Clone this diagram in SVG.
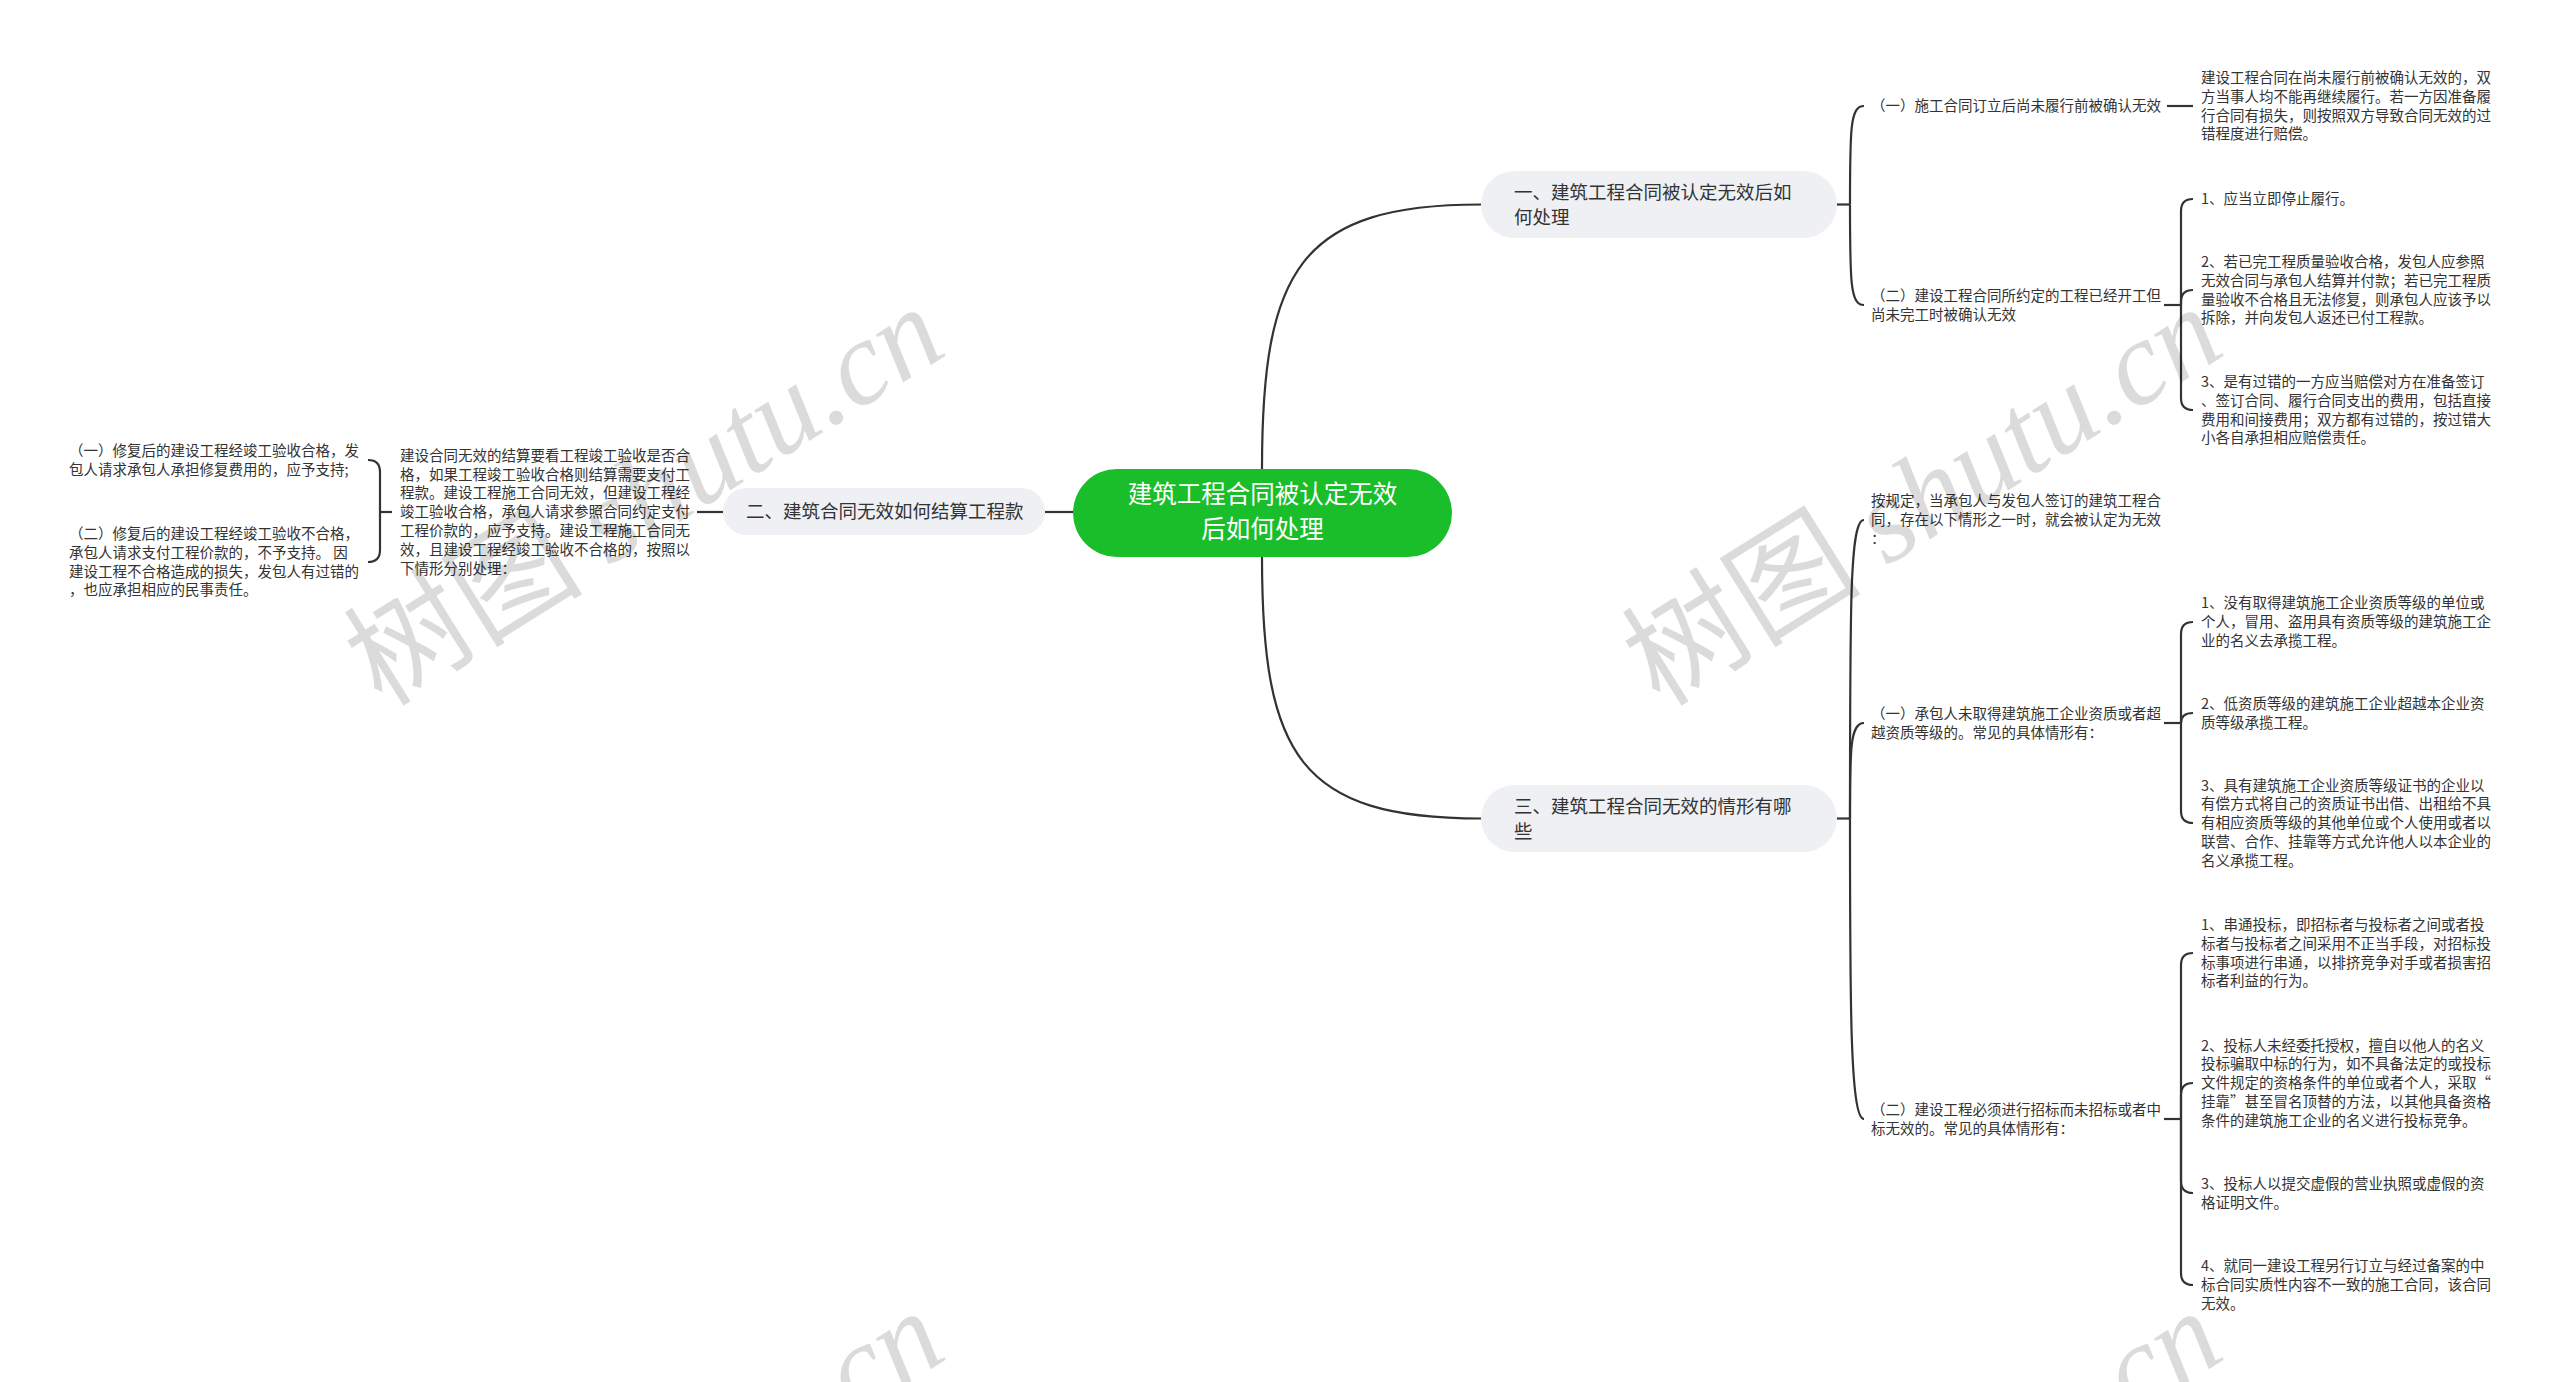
<svg xmlns="http://www.w3.org/2000/svg" width="2560" height="1382" viewBox="0 0 2560 1382">
<style>
text{font-family:"Noto Sans CJK SC","Noto Sans",sans-serif;fill:#333}
.t{font-size:14.5px}
.b{font-size:18.5px}
.r{font-size:24.5px;fill:#fff;text-anchor:middle}
.pill{fill:#eef0f3}
.c{fill:none;stroke:#333;stroke-width:2.2}
.wm{font-size:120px;fill:#000;fill-opacity:0.14}
.wm tspan{font-family:"Liberation Serif",serif;font-style:italic}
</style>
<rect width="2560" height="1382" fill="#fff"/>
<g id="connectors">
<path class="c" d="M1262,469 C1262,270 1300,204.5 1481,204.5"/>
<path class="c" d="M1262,557 C1262,756 1300,818.5 1481,818.5"/>
<path class="c" d="M1073,512 H1045"/>
<path class="c" d="M723,512 H697"/>
<path class="c" d="M392,512 H380"/>
<path class="c" d="M380,512 V472 Q380,460 368,460"/>
<path class="c" d="M380,512 V550 Q380,562 368,562"/>
<path class="c" d="M1837,204.5 H1850"/>
<path class="c" d="M1850,204.5 C1850,130 1850,106 1864,106"/>
<path class="c" d="M1850,204.5 C1850,280 1850,305 1864,305"/>
<path class="c" d="M2167,106 H2193"/>
<path class="c" d="M2164,305 H2181"/>
<path class="c" d="M2181,305 V211 Q2181,199 2193,199"/>
<path class="c" d="M2181,305 V302 Q2181,290 2193,290"/>
<path class="c" d="M2181,305 V398 Q2181,410 2193,410"/>
<path class="c" d="M1837,818.5 H1850"/>
<path class="c" d="M1850,818.5 C1850,600 1850,520 1864,520"/>
<path class="c" d="M1850,818.5 C1850,750 1850,723 1864,723"/>
<path class="c" d="M1850,818.5 C1850,1000 1850,1119 1864,1119"/>
<path class="c" d="M2164,723 H2181"/>
<path class="c" d="M2181,723 V634 Q2181,622 2193,622"/>
<path class="c" d="M2181,723 Q2181,713 2193,713"/>
<path class="c" d="M2181,723 V811 Q2181,823 2193,823"/>
<path class="c" d="M2164,1119 H2181"/>
<path class="c" d="M2181,1119 V965 Q2181,953 2193,953"/>
<path class="c" d="M2181,1119 V1095 Q2181,1083 2193,1083"/>
<path class="c" d="M2181,1119 V1181 Q2181,1193 2193,1193"/>
<path class="c" d="M2181,1119 V1273 Q2181,1285 2193,1285"/>
</g>
<g id="root">
<rect x="1073" y="469" width="379" height="88" rx="44" fill="#19be2a"/>
<text class="r" x="1262.5" y="503">建筑工程合同被认定无效</text>
<text class="r" x="1262.5" y="537.5">后如何处理</text>
</g>
<g id="branch1">
<rect class="pill" x="1481" y="171" width="356" height="67" rx="33.5"/>
<text class="b" x="1514" y="198.5">一、建筑工程合同被认定无效后如</text>
<text class="b" x="1514" y="223.5">何处理</text>
</g>
<g id="branch2">
<rect class="pill" x="723" y="488" width="322" height="47" rx="23.5"/>
<text class="b" x="746" y="518">二、建筑合同无效如何结算工程款</text>
</g>
<g id="branch3">
<rect class="pill" x="1481" y="785" width="356" height="67" rx="33.5"/>
<text class="b" x="1514" y="812.5">三、建筑工程合同无效的情形有哪</text>
<text class="b" x="1514" y="837.5">些</text>
</g>
<g id="b2-para">
<text class="t" x="400" y="460.5">建设合同无效的结算要看工程竣工验收是否合</text>
<text class="t" x="400" y="479.5">格，如果工程竣工验收合格则结算需要支付工</text>
<text class="t" x="400" y="498">程款。建设工程施工合同无效，但建设工程经</text>
<text class="t" x="400" y="517">竣工验收合格，承包人请求参照合同约定支付</text>
<text class="t" x="400" y="536">工程价款的，应予支持。建设工程施工合同无</text>
<text class="t" x="400" y="554.5">效，且建设工程经竣工验收不合格的，按照以</text>
<text class="t" x="400" y="573.5">下情形分别处理：</text>
</g>
<g id="b2-leafA">
<text class="t" x="69" y="455.5">（一）修复后的建设工程经竣工验收合格，发</text>
<text class="t" x="69" y="474.5">包人请求承包人承担修复费用的，应予支持;</text>
</g>
<g id="b2-leafB">
<text class="t" x="69" y="539">（二）修复后的建设工程经竣工验收不合格，</text>
<text class="t" x="69" y="557.5">承包人请求支付工程价款的，不予支持。 因</text>
<text class="t" x="69" y="576.5">建设工程不合格造成的损失，发包人有过错的</text>
<text class="t" x="69" y="595">，也应承担相应的民事责任。</text>
</g>
<g id="b1-sub1">
<text class="t" x="1871" y="111">（一）施工合同订立后尚未履行前被确认无效</text>
</g>
<g id="b1-sub1-leaf">
<text class="t" x="2201" y="83">建设工程合同在尚未履行前被确认无效的，双</text>
<text class="t" x="2201" y="102">方当事人均不能再继续履行。若一方因准备履</text>
<text class="t" x="2201" y="120.5">行合同有损失，则按照双方导致合同无效的过</text>
<text class="t" x="2201" y="139">错程度进行赔偿。</text>
</g>
<g id="b1-sub2">
<text class="t" x="1871" y="300.5">（二）建设工程合同所约定的工程已经开工但</text>
<text class="t" x="1871" y="319.5">尚未完工时被确认无效</text>
</g>
<g id="b1-sub2-i1">
<text class="t" x="2201" y="204">1、应当立即停止履行。</text>
</g>
<g id="b1-sub2-i2">
<text class="t" x="2201" y="267">2、若已完工程质量验收合格，发包人应参照</text>
<text class="t" x="2201" y="286">无效合同与承包人结算并付款；若已完工程质</text>
<text class="t" x="2201" y="304.5">量验收不合格且无法修复，则承包人应该予以</text>
<text class="t" x="2201" y="323">拆除，并向发包人返还已付工程款。</text>
</g>
<g id="b1-sub2-i3">
<text class="t" x="2201" y="387">3、是有过错的一方应当赔偿对方在准备签订</text>
<text class="t" x="2201" y="406">、签订合同、履行合同支出的费用，包括直接</text>
<text class="t" x="2201" y="424.5">费用和间接费用；双方都有过错的，按过错大</text>
<text class="t" x="2201" y="443">小各自承担相应赔偿责任。</text>
</g>
<g id="b3-intro">
<text class="t" x="1871" y="506">按规定，当承包人与发包人签订的建筑工程合</text>
<text class="t" x="1871" y="525">同，存在以下情形之一时，就会被认定为无效</text>
<text class="t" x="1871" y="544">：</text>
</g>
<g id="b3-sub1">
<text class="t" x="1871" y="718.5">（一）承包人未取得建筑施工企业资质或者超</text>
<text class="t" x="1871" y="737.5">越资质等级的。常见的具体情形有：</text>
</g>
<g id="b3-sub1-i1">
<text class="t" x="2201" y="608">1、没有取得建筑施工企业资质等级的单位或</text>
<text class="t" x="2201" y="627">个人，冒用、盗用具有资质等级的建筑施工企</text>
<text class="t" x="2201" y="646">业的名义去承揽工程。</text>
</g>
<g id="b3-sub1-i2">
<text class="t" x="2201" y="708.5">2、低资质等级的建筑施工企业超越本企业资</text>
<text class="t" x="2201" y="727.5">质等级承揽工程。</text>
</g>
<g id="b3-sub1-i3">
<text class="t" x="2201" y="790.5">3、具有建筑施工企业资质等级证书的企业以</text>
<text class="t" x="2201" y="809">有偿方式将自己的资质证书出借、出租给不具</text>
<text class="t" x="2201" y="828">有相应资质等级的其他单位或个人使用或者以</text>
<text class="t" x="2201" y="847">联营、合作、挂靠等方式允许他人以本企业的</text>
<text class="t" x="2201" y="865.5">名义承揽工程。</text>
</g>
<g id="b3-sub2">
<text class="t" x="1871" y="1114.5">（二）建设工程必须进行招标而未招标或者中</text>
<text class="t" x="1871" y="1133.5">标无效的。常见的具体情形有：</text>
</g>
<g id="b3-sub2-i1">
<text class="t" x="2201" y="930">1、串通投标，即招标者与投标者之间或者投</text>
<text class="t" x="2201" y="948.5">标者与投标者之间采用不正当手段，对招标投</text>
<text class="t" x="2201" y="967.5">标事项进行串通，以排挤竞争对手或者损害招</text>
<text class="t" x="2201" y="986">标者利益的行为。</text>
</g>
<g id="b3-sub2-i2">
<text class="t" x="2201" y="1050.5">2、投标人未经委托授权，擅自以他人的名义</text>
<text class="t" x="2201" y="1069">投标骗取中标的行为，如不具备法定的或投标</text>
<text class="t" x="2201" y="1088">文件规定的资格条件的单位或者个人，采取“</text>
<text class="t" x="2201" y="1107">挂靠”甚至冒名顶替的方法，以其他具备资格</text>
<text class="t" x="2201" y="1125.5">条件的建筑施工企业的名义进行投标竞争。</text>
</g>
<g id="b3-sub2-i3">
<text class="t" x="2201" y="1188.5">3、投标人以提交虚假的营业执照或虚假的资</text>
<text class="t" x="2201" y="1207.5">格证明文件。</text>
</g>
<g id="b3-sub2-i4">
<text class="t" x="2201" y="1271">4、就同一建设工程另行订立与经过备案的中</text>
<text class="t" x="2201" y="1290">标合同实质性内容不一致的施工合同，该合同</text>
<text class="t" x="2201" y="1309">无效。</text>
</g>
<g id="watermarks">
<text class="wm" transform="translate(382,708) rotate(-32)">树图 <tspan>shutu.cn</tspan></text>
<text class="wm" transform="translate(1660,708) rotate(-32)">树图 <tspan>shutu.cn</tspan></text>
<text class="wm" transform="translate(382,1712) rotate(-32)">树图 <tspan>shutu.cn</tspan></text>
<text class="wm" transform="translate(1660,1712) rotate(-32)">树图 <tspan>shutu.cn</tspan></text>
</g>
</svg>
